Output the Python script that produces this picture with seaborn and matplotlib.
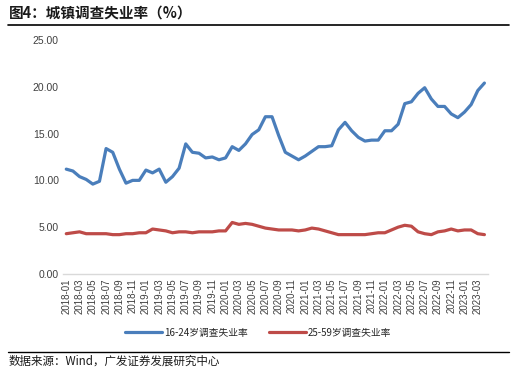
import numpy as np
import pandas as pd
import matplotlib
matplotlib.use("Agg")
import matplotlib.pyplot as plt
import seaborn as sns
from matplotlib.lines import Line2D

sns.set_style("white")
plt.rcParams['font.family'] = ['Liberation Sans', 'Noto Sans CJK SC', 'DejaVu Sans']
plt.rcParams['axes.unicode_minus'] = False

# 月份 2018-01 ~ 2023-04
months = pd.period_range("2018-01", "2023-04", freq="M").strftime("%Y-%m").tolist()

# 16-24岁调查失业率
youth = [11.2, 11.0, 10.4, 10.1, 9.6, 9.9, 13.4, 13.0, 11.2, 9.7, 10.0, 10.0,
         11.1, 10.8, 11.2, 9.8, 10.4, 11.3, 13.9, 13.0, 12.9, 12.4, 12.5, 12.2,
         12.4, 13.6, 13.2, 13.9, 14.9, 15.4, 16.8, 16.8, 14.8, 13.0, 12.6, 12.2,
         12.6, 13.1, 13.6, 13.6, 13.7, 15.4, 16.2, 15.3, 14.6, 14.2, 14.3, 14.3,
         15.3, 15.3, 16.0, 18.2, 18.4, 19.3, 19.9, 18.7, 17.9, 17.9, 17.1, 16.7,
         17.3, 18.1, 19.6, 20.4]

# 25-59岁调查失业率
adult = [4.3, 4.4, 4.5, 4.3, 4.3, 4.3, 4.3, 4.2, 4.2, 4.3, 4.3, 4.4,
         4.4, 4.8, 4.7, 4.6, 4.4, 4.5, 4.5, 4.4, 4.5, 4.5, 4.5, 4.6,
         4.6, 5.5, 5.3, 5.4, 5.3, 5.1, 4.9, 4.8, 4.7, 4.7, 4.7, 4.6,
         4.7, 4.9, 4.8, 4.6, 4.4, 4.2, 4.2, 4.2, 4.2, 4.2, 4.3, 4.4,
         4.4, 4.7, 5.0, 5.2, 5.1, 4.5, 4.3, 4.2, 4.5, 4.6, 4.8, 4.6,
         4.7, 4.7, 4.3, 4.2]

names = ['16-24岁调查失业率', '25-59岁调查失业率']
colors = ['#4A7EBB', '#BE4B48']

df = pd.DataFrame({
    'idx': list(range(len(months))) * 2,
    'value': youth + adult,
    'series': [names[0]] * len(months) + [names[1]] * len(months),
})

fig = plt.figure(figsize=(5.29, 3.81), dpi=100)
ax = fig.add_axes([0.119, 0.281, 0.803, 0.614])

sns.lineplot(data=df, x='idx', y='value', hue='series', palette=colors,
             linewidth=2.3, ax=ax, solid_joinstyle='round', solid_capstyle='round')

ax.set_xlim(-0.5, len(months) - 0.5)
ax.set_ylim(0, 25)
ax.set_yticks(np.arange(0, 26, 5))
ax.set_yticklabels([f"{v:.2f}" for v in np.arange(0, 26, 5)], fontsize=7.5, color='#404040')
ax.set_xticks(range(0, len(months), 2))
ax.set_xticklabels(months[::2], rotation=90, fontsize=7, color='#404040')
ax.tick_params(axis='both', length=0, pad=3)
ax.set_xlabel('')
ax.set_ylabel('')
for s in ['top', 'right', 'left']:
    ax.spines[s].set_visible(False)
ax.spines['bottom'].set_color('#D9D9D9')
ax.spines['bottom'].set_linewidth(1)

ax.legend(loc='center', bbox_to_anchor=(0.46, -0.252), ncol=2, frameon=False,
          prop={'family': ['Noto Sans CJK SC'], 'size': 7}, handlelength=3.8,
          columnspacing=2.2, handletextpad=0.2)

fig.text(0.016, 0.968, '图4：城镇调查失业率（%）', fontsize=10.5, fontweight='bold',
         family=['Noto Sans CJK SC'], color='#1a1a1a', va='center', ha='left')
fig.add_artist(Line2D([0.015, 0.962], [0.934, 0.934], color='black', linewidth=1.2))
fig.add_artist(Line2D([0.015, 0.962], [0.076, 0.076], color='black', linewidth=1.0))
fig.text(0.016, 0.052, '数据来源：Wind，广发证券发展研究中心', fontsize=8.3,
         family=['Noto Sans CJK SC'], color='#1a1a1a', va='center', ha='left')

fig.savefig('out.png', dpi=100)
